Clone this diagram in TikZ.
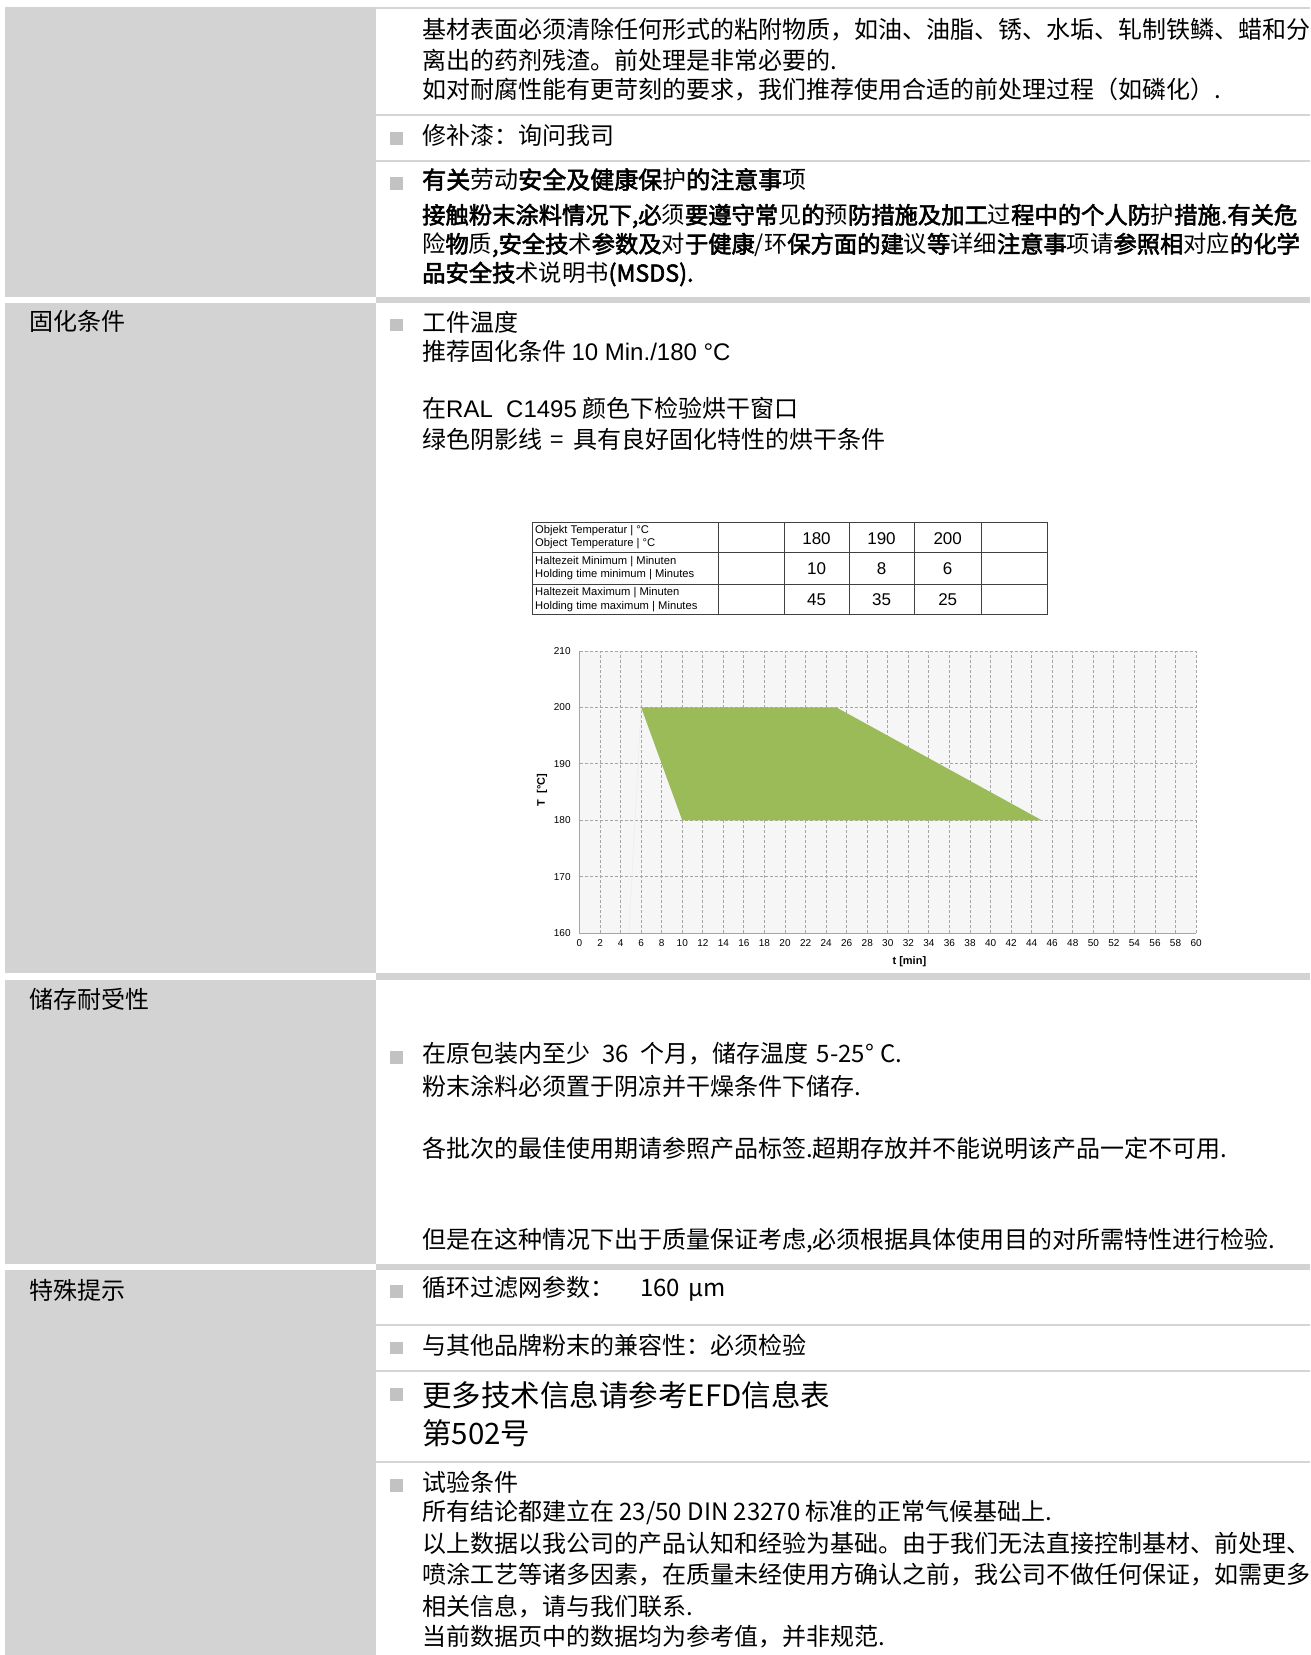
\documentclass[tikz,border=0pt]{standalone}
\usepackage{fontspec}
\setmainfont{Noto Sans CJK SC}[AutoFakeBold=2.5]
\newfontfamily\arial{Liberation Sans}
\definecolor{panelgray}{HTML}{D3D3D3}
\definecolor{rulegray}{HTML}{D5D5D5}
\definecolor{bulletgray}{HTML}{C2C2C2}
\definecolor{plotbg}{HTML}{F6F6F6}
\definecolor{gridgray}{HTML}{A6A6A6}
\definecolor{curegreen}{HTML}{9BBB59}
\newcommand\lite[1]{{\mdseries #1}}
\newcommand\sqbul[1]{\fill[bulletgray] (390, #1) rectangle ++(12.5, 12.5);}

\begin{document}
\begin{tikzpicture}[x=1pt, y=-1pt,
    txt/.style={anchor=west, inner sep=0pt, font=\fontsize{24}{28}\selectfont},
    boldtxt/.style={anchor=west, inner sep=0pt, font=\fontsize{23.3}{28}\selectfont\bfseries},
    bigtxt/.style={anchor=west, inner sep=0pt, font=\fontsize{29.5}{33}\selectfont},
    tabline/.style={draw=black!75, line width=1pt},
    tabsmall/.style={anchor=west, inner sep=0pt, font=\arial\fontsize{11.2}{12}\selectfont},
    tabnum/.style={anchor=center, inner sep=0pt, font=\arial\fontsize{17}{20}\selectfont},
    ticklab/.style={inner sep=0pt, font=\arial\fontsize{10}{12}\selectfont},
    axlab/.style={inner sep=0pt, font=\arial\bfseries\fontsize{11}{13}\selectfont},
    gridline/.style={draw=gridgray, line width=0.9pt, dash pattern=on 3pt off 2pt}]
    \useasboundingbox (0, 0) rectangle (1310, 1655);
    \fill[white] (0, 0) rectangle (1310, 1655);

    % left label column
    \fill[panelgray] (5, 7.3) rectangle (375.5, 296.7);
    \fill[panelgray] (5, 302.7) rectangle (375.5, 973);
    \fill[panelgray] (5, 980) rectangle (375.5, 1264);
    \fill[panelgray] (5, 1270) rectangle (375.5, 1655);

    % rules in the right column
    \fill[panelgray] (375.5, 297) rectangle (1310, 303);
    \fill[panelgray] (375.5, 973) rectangle (1310, 980);
    \fill[panelgray] (375.5, 1264) rectangle (1310, 1270);
    \foreach \y in {7.8, 114.8, 160.8, 1325, 1371, 1461.7}
        \draw[rulegray, line width=2pt] (375.5, \y) -- (1310, \y);

    \node[txt] (curelab) at (29, 321) {固化条件};
    \node[txt] (storelab) at (29, 999.5) {储存耐受性};
    \node[txt] (notelab) at (29, 1290) {特殊提示};

    % pretreatment
    \node[txt] (pre1) at (422, 30) {基材表面必须清除任何形式的粘附物质，如油、油脂、锈、水垢、轧制铁鳞、蜡和分};
    \node[txt] (pre2) at (422, 60) {离出的药剂残渣。前处理是非常必要的.};
    \node[txt] (pre3) at (422, 90) {如对耐腐性能有更苛刻的要求，我们推荐使用合适的前处理过程（如磷化）.};
    \sqbul{132}
    \node[txt] (touchup) at (422, 135) {修补漆：询问我司};
    \sqbul{177}
    \node[txt, font=\fontsize{24}{28}\selectfont\bfseries] (safety) at (422, 179.5) {有关\lite{劳动}安全及健康保\lite{护}的注意事\lite{项}};
    \node[boldtxt] (safe1) at (422, 216) {接触粉末涂料情况下,必\lite{须}要遵守常\lite{见}的\lite{预}防措施及加工\lite{过}程中的个人防\lite{护}措施.有关危};
    \node[boldtxt] (safe2) at (422, 245) {\lite{险}物\lite{质},安全技\lite{术}参数及\lite{对}于健康\lite{/环}保方面的建\lite{议}等\lite{详细}注意事\lite{项请}参照相\lite{对应}的化学};
    \node[boldtxt] (safe3) at (422, 274) {品安全技\lite{术说明书}(MSDS).};

    % curing
    \sqbul{318.5}
    \node[txt] (cure1) at (422, 322) {工件温度};
    \node[txt] (cure2) at (422, 351.5) {推荐固化条件 {\arial 10 Min./180 °C}};
    \node[txt] (cure3) at (422, 408.5) {在{\arial RAL\ \ C1495} 颜色下检验烘干窗口};
    \node[txt] (cure4) at (422, 439) {绿色阴影线\hspace{8pt}=\hspace{10pt}具有良好固化特性的烘干条件};

    \draw[tabline] (532.8, 522.3) rectangle (1047, 614.3);
    \foreach \y in {552.7, 584}
        \draw[tabline] (532.8, \y) -- (1047, \y);
    \foreach \x in {718, 784, 849, 914, 981.5}
        \draw[tabline] (\x, 522.3) -- (\x, 614.3);
    \node[tabsmall] (objde) at (535, 530.8) {Objekt Temperatur | °C};
    \node[tabsmall] (objen) at (535, 543.8) {Object Temperature | °C};
    \node[tabsmall] (minde) at (535, 561.5) {Haltezeit Minimum | Minuten};
    \node[tabsmall] (minen) at (535, 575) {Holding time minimum | Minutes};
    \node[tabsmall] (maxde) at (535, 592.3) {Haltezeit Maximum | Minuten};
    \node[tabsmall] (maxen) at (535, 606.3) {Holding time maximum | Minutes};
    \node[tabnum] (t1) at (816.5, 538.5) {180};
    \node[tabnum] (t2) at (881.5, 538.5) {190};
    \node[tabnum] (t3) at (947.7, 538.5) {200};
    \node[tabnum] (m1) at (816.5, 568.5) {10};
    \node[tabnum] (m2) at (881.5, 568.5) {8};
    \node[tabnum] (m3) at (947.7, 568.5) {6};
    \node[tabnum] (x1) at (816.5, 599.3) {45};
    \node[tabnum] (x2) at (881.5, 599.3) {35};
    \node[tabnum] (x3) at (947.7, 599.3) {25};

    % curing window chart
    \begin{scope}[shift={(579.5pt, -933.3pt)}, x=10.2767pt, y=5.6467pt]
        \fill[plotbg] (0, 0) rectangle (60, 50);
        \foreach \t in {2, 4, ..., 58}
            \draw[gridline] (\t, 0) -- (\t, 50);
        \foreach \T in {10, 20, 30, 40, 50}
            \draw[gridline] (0, \T) -- (60, \T);
        \draw[gridline] (60, 0) -- (60, 50);
        \draw[black!7, line width=0.6pt] (4.8, 0) -- (6, 40);
        \fill[curegreen] (6, 40) -- (25, 40) -- (45, 20) -- (10, 20) -- cycle;
        \draw[gridgray, line width=0.9pt] (0, 50) -- (0, 0) -- (60, 0);
        \foreach \T in {160, 170, ..., 210}
            \node[ticklab, anchor=east] (ty\T) at (-0.85, \T-160) {\T};
        \foreach \t in {0, 2, ..., 60}
            \node[ticklab, anchor=center] (tx\t) at (\t, -1.8) {\t};
        \node[axlab, anchor=center] (tlab) at (32.1, -5.05) {t [min]};
        \node[axlab, anchor=center, rotate=90] (Tlab) at (-3.65, 25.4) {T\ \ [°C]};
    \end{scope}

    % storage
    \sqbul{1051}
    \node[txt] (store1) at (422, 1054) {在原包装内至少\hspace{12pt}36\hspace{12pt}个月，储存温度\hspace{8pt}5-25°\hspace{6pt}C.};
    \node[txt] (store2) at (422, 1086.5) {粉末涂料必须置于阴凉并干燥条件下储存.};
    \node[txt] (store3) at (422, 1148) {各批次的最佳使用期请参照产品标签.超期存放并不能说明该产品一定不可用.};
    \node[txt] (store4) at (422, 1240.5) {但是在这种情况下出于质量保证考虑,必须根据具体使用目的对所需特性进行检验.};

    % special notes
    \sqbul{1285}
    \node[txt] (sieve) at (422, 1289) {循环过滤网参数：\hspace{26pt}160\hspace{8pt}μm};
    \sqbul{1341.5}
    \node[txt] (compat) at (422, 1345) {与其他品牌粉末的兼容性：必须检验};
    \sqbul{1388}
    \node[bigtxt] (efd1) at (422, 1395) {更多技术信息请参考EFD信息表};
    \node[bigtxt] (efd2) at (422, 1433) {第502号};
    \sqbul{1479}
    \node[txt] (test1) at (422, 1482) {试验条件};
    \node[txt] (test2) at (422, 1512) {所有结论都建立在 23/50 DIN 23270 标准的正常气候基础上.};
    \node[txt] (test3) at (422, 1543) {以上数据以我公司的产品认知和经验为基础。由于我们无法直接控制基材、前处理、};
    \node[txt] (test4) at (422, 1575) {喷涂工艺等诸多因素，在质量未经使用方确认之前，我公司不做任何保证，如需更多};
    \node[txt] (test5) at (422, 1606.5) {相关信息，请与我们联系.};
    \node[txt] (test6) at (422, 1637) {当前数据页中的数据均为参考值，并非规范.};
\end{tikzpicture}
\end{document}
